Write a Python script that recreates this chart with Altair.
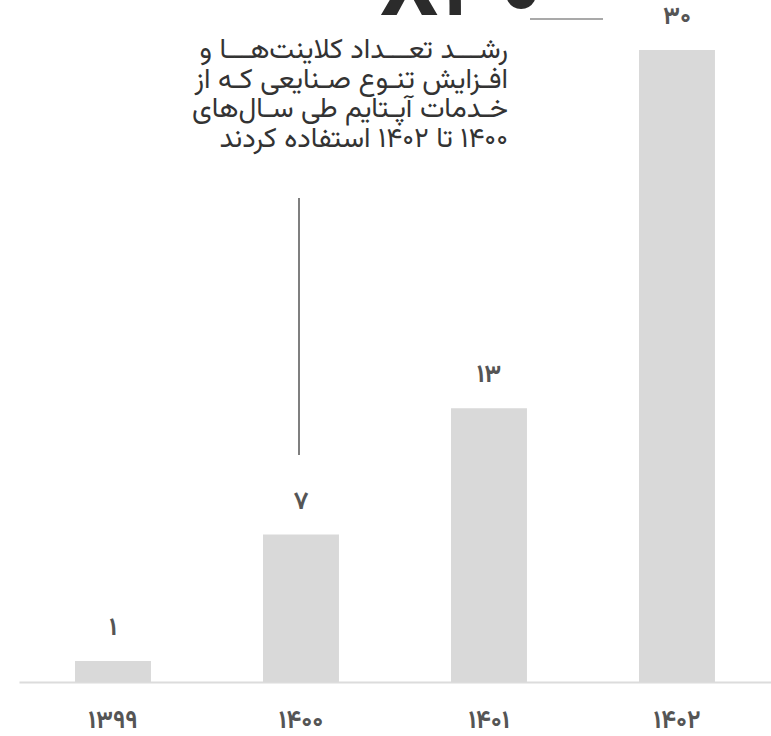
import altair as alt
import pandas as pd

years = ["۱۳۹۹", "۱۴۰۰", "۱۴۰۱", "۱۴۰۲"]
values = [1, 7, 13, 30]
value_labels = ["۱", "۷", "۱۳", "۳۰"]
note_lines = [
    "رشـــد تعـــداد کلاینت‌هـــا و",
    "افـزایش تنـوع صـنایعی کـه از",
    "خـدمات آپـتایم طی سـال‌های",
    "۱۴۰۰ تا ۱۴۰۲ استفاده کردند",
]
headline = "X۳۰"

FONT = "Vazirmatn, DejaVu Sans, sans-serif"
RLM = "\u200f"

df = pd.DataFrame({"year": years, "value": values, "label": value_labels})

x = alt.X("year:N", sort=years,
          scale=alt.Scale(range=[19, 771], paddingInner=0.596, paddingOuter=0.298),
          axis=alt.Axis(title=None, orient="bottom", offset=-54, domainColor="#dcdcdc",
                        domainWidth=2, ticks=False, labelPadding=25, labelAngle=0,
                        labelFont=FONT, labelFontSize=25, labelFontWeight="bold",
                        labelColor="#555555"))
y = alt.Y("value:Q", scale=alt.Scale(domain=[0, 30], range=[682, 50], nice=False, zero=True),
          axis=None)

base = alt.Chart(df)
bars = base.mark_bar(color="#d9d9d9").encode(x=x, y=y)
labels = base.mark_text(font=FONT, fontSize=25, fontWeight="bold", color="#555555",
                        dy=-34, baseline="middle").encode(x=x, y=y, text="label:N")

note = alt.Chart(pd.DataFrame({"t": [[RLM + s + RLM for s in note_lines]]})).mark_text(
    font=FONT, fontSize=28, color="#333333", align="right", baseline="alphabetic",
    lineHeight=29.5
).encode(x=alt.value(508), y=alt.value(58), text="t")

head = alt.Chart(pd.DataFrame({"t": [headline]})).mark_text(
    font=FONT, fontSize=92, fontWeight="bold", color="#2b2b2b", align="left",
    baseline="alphabetic"
).encode(x=alt.value(380), y=alt.value(15), text="t")

vline = alt.Chart(pd.DataFrame({"a": [0]})).mark_rule(color="#555555", strokeWidth=1.5).encode(
    x=alt.value(299), y=alt.value(198), y2=alt.value(455))
hline = alt.Chart(pd.DataFrame({"a": [0]})).mark_rule(color="#555555", strokeWidth=1.2).encode(
    x=alt.value(530), x2=alt.value(603), y=alt.value(19))

chart = alt.layer(bars, labels, note, head, vline, hline).properties(
    width=771, height=736, padding=0, autosize=alt.AutoSizeParams(type="none")
).configure_view(stroke=None)

chart.save("out.html", embed_options={"renderer": "svg", "actions": False})
